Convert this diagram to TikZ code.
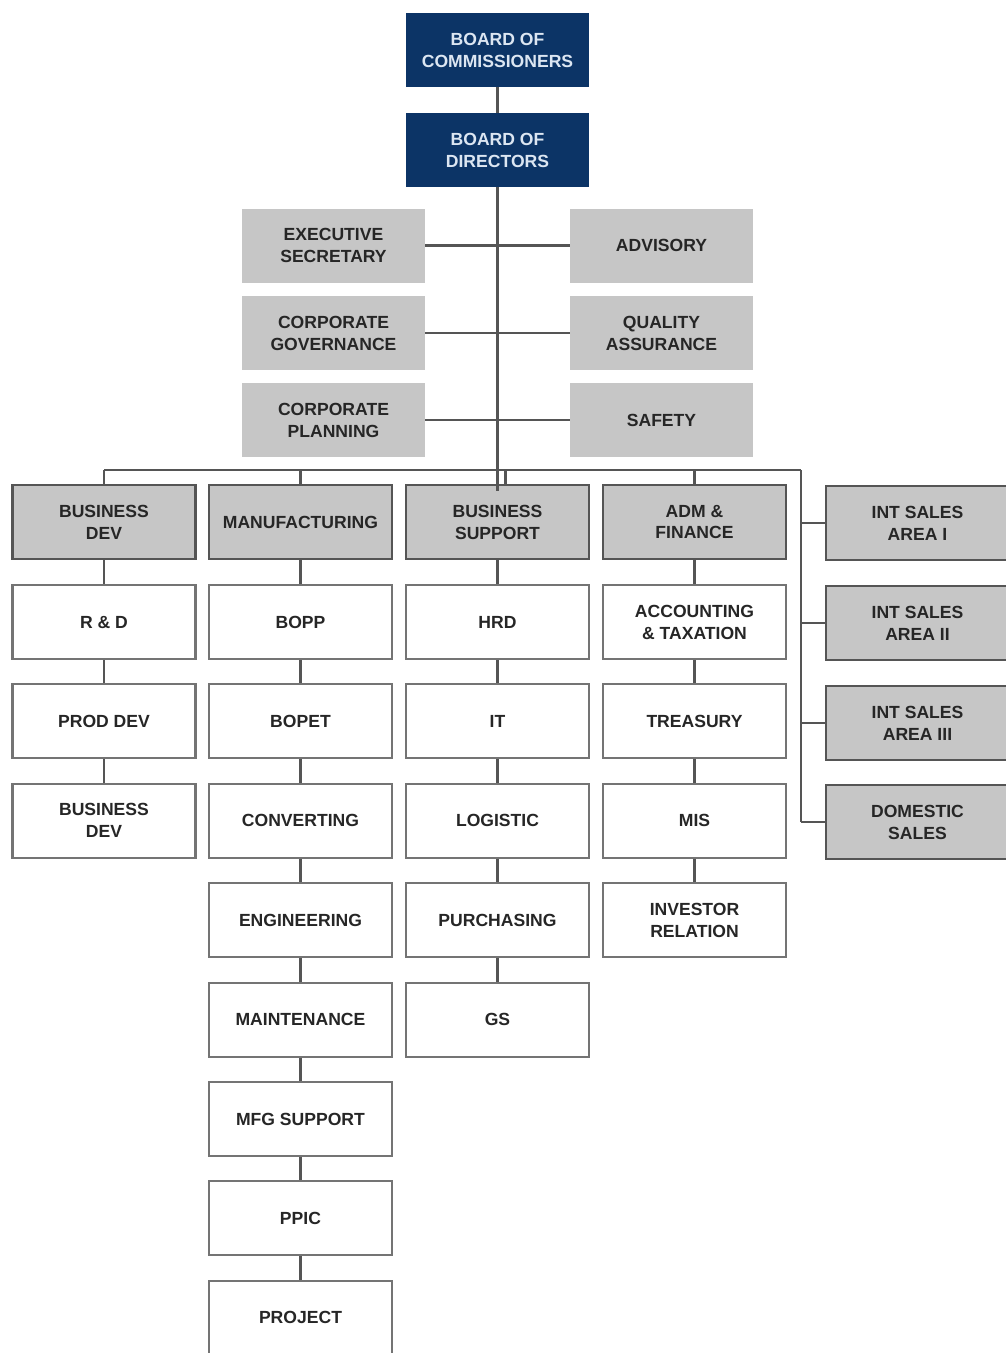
\documentclass[tikz,border=0pt]{standalone}
\usepackage{fontspec}
\setmainfont{Liberation Sans}
\definecolor{navy}{HTML}{0C3466}
\definecolor{boardtxt}{HTML}{DCE6F2}
\definecolor{boxgray}{HTML}{C6C6C6}
\definecolor{linegray}{HTML}{555555}
\definecolor{edgegray}{HTML}{747474}
\definecolor{inkgray}{HTML}{262626}
\begin{document}
\begin{tikzpicture}[x=0.02cm,y=-0.02cm,
    box/.style={minimum width=3.66cm,minimum height=1.48cm,inner sep=0pt,
                align=center,font=\fontsize{10}{12.5}\selectfont\bfseries},
    board/.style={box,fill=navy,text=boardtxt},
    staff/.style={box,fill=boxgray,text=inkgray},
    division/.style={box,fill=boxgray,draw=linegray,line width=1.3pt,text=inkgray},
    unit/.style={box,fill=white,draw=edgegray,line width=1.2pt,text=inkgray},
    link/.style={draw=linegray,line width=1.4pt}]
  \useasboundingbox (0,0) rectangle (1005,1353);

  % --- Boards ---
  \node[board] (boc) at (497.5,50)  {BOARD OF\\COMMISSIONERS};
  \node[board] (bod) at (497.5,150) {BOARD OF\\DIRECTORS};

  % --- Staff ---
  \node[staff] (exs) at (333.5,245.5) {EXECUTIVE\\SECRETARY};
  \node[staff] (cgv) at (333.5,333)   {CORPORATE\\GOVERNANCE};
  \node[staff] (cpl) at (333.5,420)   {CORPORATE\\PLANNING};
  \node[staff] (adv) at (661.5,245.5) {ADVISORY};
  \node[staff] (qa)  at (661.5,333)   {QUALITY\\ASSURANCE};
  \node[staff] (saf) at (661.5,420)   {SAFETY};

  % --- Divisions ---
  \node[division] (bd)  at (104,522)   {BUSINESS\\DEV};
  \node[division] (mfg) at (300.5,522) {MANUFACTURING};
  \node[division] (bs)  at (497.5,522) {BUSINESS\\SUPPORT};
  \node[division] (adm) at (694.5,522) {ADM \&\\FINANCE};

  % --- Sales ---
  \node[division] (isa1) at (917.5,523) {INT SALES\\AREA I};
  \node[division] (isa2) at (917.5,623) {INT SALES\\AREA II};
  \node[division] (isa3) at (917.5,723) {INT SALES\\AREA III};
  \node[division] (dms)  at (917.5,822) {DOMESTIC\\SALES};

  % --- Units ---
  \foreach \lbl [count=\i] in {R \& D, PROD DEV, {BUSINESS\\DEV}}
    \node[unit] (bd\i) at (104,{622+(\i-1)*99.4}) {\lbl};
  \foreach \lbl [count=\i] in {BOPP, BOPET, CONVERTING, ENGINEERING,
                              MAINTENANCE, MFG SUPPORT, PPIC, PROJECT}
    \node[unit] (mfg\i) at (300.5,{622+(\i-1)*99.4}) {\lbl};
  \foreach \lbl [count=\i] in {HRD, IT, LOGISTIC, PURCHASING, GS}
    \node[unit] (bs\i) at (497.5,{622+(\i-1)*99.4}) {\lbl};
  \foreach \lbl [count=\i] in {{ACCOUNTING\\\& TAXATION}, TREASURY, MIS,
                              {INVESTOR\\RELATION}}
    \node[unit] (adm\i) at (694.5,{622+(\i-1)*99.4}) {\lbl};

  % --- Trunk ---
  \coordinate (trunk) at (497.5,491);
  \coordinate (busL) at (104,470);
  \coordinate (busR) at (801,470);
  \draw[link] (boc.south) -- (bod.north);
  \draw[link] (bod.south) -- (trunk);
  \draw[link] (exs.east) -- (adv.west);
  \draw[link] (cgv.east) -- (qa.west);
  \draw[link] (cpl.east) -- (saf.west);

  % --- Bus ---
  \draw[link] (busL) -- (busR);
  \draw[link] (bd.north) -- (bd.north |- busL);
  \draw[link] (mfg.north) -- (mfg.north |- busL);
  \draw[link] ([xshift=0.16cm]bs.north) -- ([xshift=0.16cm]bs.north |- busL);
  \draw[link] (adm.north) -- (adm.north |- busL);
  \draw[link] (busR) -- (busR |- dms.west);
  \foreach \s in {isa1,isa2,isa3,dms}
    \draw[link] (\s.west) -- (\s.west -| busR);

  % --- Chains ---
  \foreach \c/\n in {bd/3,mfg/8,bs/5,adm/4}{
    \draw[link] (\c.south) -- (\c1.north);
    \foreach \k in {2,...,\n}{
      \pgfmathtruncatemacro{\p}{\k-1}
      \draw[link] (\c\p.south) -- (\c\k.north);
    }
  }
\end{tikzpicture}
\end{document}
